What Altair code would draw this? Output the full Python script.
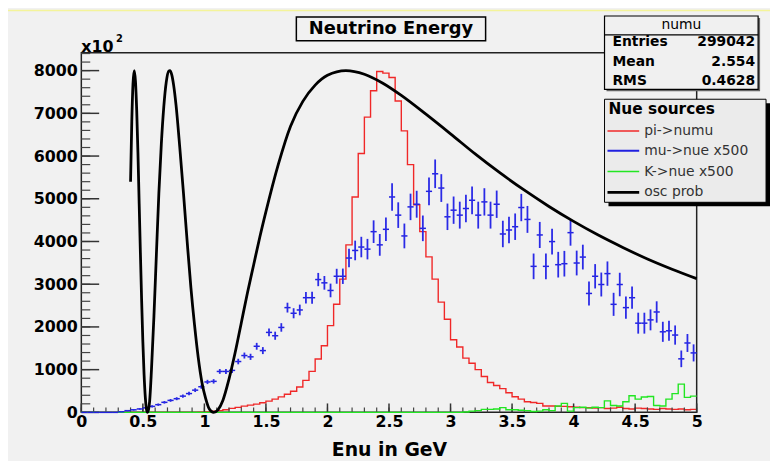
import altair as alt
import pandas as pd

FONT = "DejaVu Sans"

# ---------------- data ----------------
bin_low = [i / 20 for i in range(100)]          # 100 bins of 0.05 GeV
bin_edges = [i / 20 for i in range(101)]

pi_numu = [0] * 19 + [5, 10, 25, 40, 60, 93, 116, 147, 170, 193, 224, 263, 310, 363, 425,
                      495, 595, 750, 960, 1250, 1560, 2030, 2530, 3120, 3920, 5040, 6060, 6910, 7530,
                      7980, 7940, 7840, 7290, 6590, 5800, 4860, 4230, 3640, 3120, 2580, 2180,
                      1700, 1530, 1270, 1150, 1000, 840, 700, 630, 555, 460, 365, 310, 250, 230,
                      210, 150, 150, 140, 140, 130, 120, 110, 110, 100, 110, 90, 100, 120, 90, 80,
                      100, 90, 80, 70, 90, 80, 70, 80, 60, 70]

k_nue = [0] * 62 + [10, 30, 40, 70, 70, 80, 110, 60, 60, 50, 40, 20, 30, 60, 40, 150, 210, 30,
                    110, 120, 100, 120, 110, 270, 160, 150, 250, 390, 310, 360, 370, 160, 150,
                    310, 440, 660, 350, 380]

mu_nue = [0] * 6 + [15, 40, 60, 80, 105, 140, 180, 235, 280, 320, 380, 440, 520, 600,
                    712, 726, 958, 958, 982, 1190, 1330, 1300, 1547, 1446, 1872, 1794, 1988, 2452,
                    2320, 2397, 2684, 2684, 3109, 3032, 2854, 3186, 3186, 3613, 3790, 3870, 3821, 4230,
                    3921, 4285, 5042, 4617, 4130, 4810, 4872, 4308, 5174, 5585, 5251, 4578,
                    4733, 4617, 4772, 4965, 4617, 4927, 4617, 4872, 4176, 4269, 4346, 4795, 4517,
                    3418, 4153, 3418, 3998, 3457, 3480, 4207,
                    3496, 3635, 2784, 3186, 2993, 3248, 2529, 2993,
                    2452, 2684, 2088, 2088, 2165, 2350, 1886, 1910,
                    1810, 1253, 1624, 1392]

mu_err = [0] * 6 + [10, 15, 18, 20, 22, 25, 28, 30, 33, 35, 38, 40, 44, 47,
                    50, 52, 56, 58, 60, 65, 70, 72, 80, 82, 90, 95, 100, 115, 118, 125, 135, 140,
                    155, 160, 160, 175, 180, 215, 230, 240, 240, 265,
                    255, 275, 320, 300, 290, 310, 315, 300, 325, 335, 325, 310,
                    320, 315, 320, 325, 315, 320, 315, 320, 310, 310, 310, 320, 315,
                    300, 305, 300, 300, 300, 300, 305,
                    290, 290, 280, 285, 280, 285, 270, 275,
                    260, 260, 245, 245, 245, 250, 235, 235,
                    225, 195, 210, 200]

osc_E = [0.40, 0.41, 0.42, 0.43, 0.44, 0.45, 0.46, 0.47, 0.48, 0.49, 0.50, 0.51, 0.52, 0.53,
         0.5375, 0.545, 0.555, 0.57, 0.59, 0.61, 0.63, 0.65, 0.67, 0.69, 0.71, 0.72, 0.735,
         0.75, 0.77, 0.80, 0.83, 0.86, 0.89, 0.92, 0.95, 0.98, 1.01, 1.04, 1.075, 1.11, 1.15,
         1.20, 1.25, 1.30, 1.35, 1.40, 1.45, 1.50, 1.60, 1.70, 1.80, 1.90, 2.00, 2.15, 2.30,
         2.45, 2.60, 2.80, 3.00, 3.20, 3.40, 3.60, 3.80, 4.00, 4.20, 4.40, 4.60, 4.80, 5.00]
osc_P = [5400, 6800, 7700, 8000, 7750, 7070, 6080, 4890, 3730, 2620, 1650, 880, 350, 60,
         0, 50, 260, 1000, 2250, 3700, 5130, 6280, 7150, 7730, 7990, 8000, 7900,
         7660, 7180, 6200, 5130, 4000, 2930, 2040, 1280, 700, 330, 80, 0, 60, 280,
         780, 1400, 2100, 2800, 3450, 4100, 4700, 5800, 6700, 7280, 7660, 7890, 8000, 7915,
         7705, 7420, 6980, 6520, 6050, 5610, 5200, 4820, 4470, 4150, 3860, 3590, 3350, 3130]

x_major = [0, 0.5, 1, 1.5, 2, 2.5, 3, 3.5, 4, 4.5, 5]
x_minor = [i / 10 for i in range(51)]
y_major = [0, 1000, 2000, 3000, 4000, 5000, 6000, 7000, 8000]
y_minor = [i * 200 for i in range(43)]

# ---------------- tables ----------------
def step_df(vals):
    return pd.DataFrame({"E": bin_edges, "v": list(vals) + [vals[-1]]})

df_red = step_df(pi_numu)
df_green = step_df(k_nue)
df_blue = pd.DataFrame({
    "lo": bin_low,
    "hi": [b + 0.05 for b in bin_low],
    "c": [b + 0.025 for b in bin_low],
    "v": mu_nue,
    "vlo": [v - e for v, e in zip(mu_nue, mu_err)],
    "vhi": [v + e for v, e in zip(mu_nue, mu_err)],
})
df_osc = pd.DataFrame({"E": osc_E, "v": osc_P})

xs = alt.Scale(domain=[0, 5], nice=False, zero=False)
ys = alt.Scale(domain=[0, 8420], nice=False)

xaxis = alt.Axis(values=x_major, format="~g", ticks=False, domain=False, grid=False,
                 labelFont=FONT, labelFontWeight="bold", labelFontSize=16, labelColor="black",
                 labelPadding=1, labelFlush=False, labelOverlap=False,
                 title="Enu in GeV", titleFont=FONT, titleFontSize=19, titleFontWeight="bold",
                 titleColor="black", titleY=44, titleBaseline="alphabetic")
yaxis = alt.Axis(values=y_major, format="d", ticks=False, domain=False, grid=False,
                 labelFont=FONT, labelFontWeight="bold", labelFontSize=16, labelColor="black",
                 labelPadding=4, labelFlush=False, labelOverlap=False, title=None)

def X(field):
    return alt.X(field, scale=xs, axis=xaxis)

def Y(field):
    return alt.Y(field, scale=ys, axis=yaxis)

one = pd.DataFrame({"k": [0]})

# ---------------- ticks (inside the frame, ROOT style) ----------------
ytick_min = alt.Chart(pd.DataFrame({"y": y_minor})).mark_rule(color="#444", strokeWidth=1.2).encode(
    y=Y("y:Q"), x=alt.value(0), x2=alt.value(9))
ytick_maj = alt.Chart(pd.DataFrame({"y": y_major})).mark_rule(color="#333", strokeWidth=1.5).encode(
    y=Y("y:Q"), x=alt.value(0), x2=alt.value(18))
xtick_min = alt.Chart(pd.DataFrame({"x": x_minor})).mark_rule(color="#444", strokeWidth=1.2).encode(
    x=X("x:Q"), y=alt.value(363), y2=alt.value(358))
xtick_maj = alt.Chart(pd.DataFrame({"x": x_major})).mark_rule(color="#333", strokeWidth=1.5).encode(
    x=X("x:Q"), y=alt.value(363), y2=alt.value(354))

# ---------------- data layers ----------------
red = alt.Chart(df_red).mark_line(interpolate="step-after", color="#f02828", strokeWidth=1.4).encode(
    x=X("E:Q"), y=Y("v:Q"))
green = alt.Chart(df_green).mark_line(interpolate="step-after", color="#22e622", strokeWidth=1.4).encode(
    x=X("E:Q"), y=Y("v:Q"))
blue_h = alt.Chart(df_blue).mark_rule(color="#2020e0", strokeWidth=1.5).encode(
    x=X("lo:Q"), x2="hi:Q", y=Y("v:Q"))
blue_v = alt.Chart(df_blue).mark_rule(color="#2a2ae6", strokeWidth=1.8).encode(
    x=X("c:Q"), y=Y("vlo:Q"), y2="vhi:Q")
osc = alt.Chart(df_osc).mark_line(interpolate="monotone", color="black", strokeWidth=2.8).encode(
    x=X("E:Q"), y=Y("v:Q"))

# ---------------- decorations (pixel positions relative to plot area) ----------------
def box(x1, x2, y1, y2, fill, stroke=None, sw=1.0):
    kw = dict(fill=fill)
    if stroke:
        kw.update(stroke=stroke, strokeWidth=sw)
    return alt.Chart(one).mark_rect(**kw).encode(
        x=alt.value(x1), x2=alt.value(x2), y=alt.value(y1), y2=alt.value(y2))

def txt(s, x, y, size=14, weight="normal", align="left", color="black", baseline="middle"):
    return alt.Chart(one).mark_text(text=s, font=FONT, fontSize=size, fontWeight=weight,
                                    align=align, baseline=baseline, color=color).encode(
        x=alt.value(x), y=alt.value(y))

def hline(x1, x2, y, color, sw):
    return alt.Chart(one).mark_rule(color=color, strokeWidth=sw).encode(
        x=alt.value(x1), x2=alt.value(x2), y=alt.value(y))

deco = [
    hline(-74, 695, -42.5, "#f4f49a", 1.5),
    # title
    box(217, 408, -36, -12, "#f1f1f1", "black", 1.5),
    txt("Neutrino Energy", 312.5, -24, size=18, weight="bold", align="center"),
    # x10^2
    txt("x10", 0, -1, size=16, weight="bold", baseline="alphabetic"),
    txt("2", 35, -11, size=10, weight="bold", baseline="alphabetic"),
    # stats box
    box(530, 685, -35, 39, "#666"),
    box(528, 683, -37, 37, "#f0f0f0", "black", 1.2),
    hline(528, 683, -18, "black", 1.2),
    txt("numu", 605.5, -28, size=14, align="center"),
    txt("Entries", 536, -11, size=14, weight="bold"),
    txt("299042", 680, -11, size=14, weight="bold", align="right"),
    txt("Mean", 536, 9, size=14, weight="bold"),
    txt("2.554", 680, 9, size=14, weight="bold", align="right"),
    txt("RMS", 536, 29, size=14, weight="bold"),
    txt("0.4628", 680, 29, size=14, weight="bold", align="right"),
    # legend
    box(532, 695, 51, 155, "black"),
    box(528, 691, 47, 151, "#ebebeb", "black", 1.0),
    txt("Nue sources", 532, 57, size=15.5, weight="bold"),
    hline(531, 563, 79, "#f02828", 1.5),
    txt("pi->numu", 568, 79, size=14, color="#333"),
    hline(531, 563, 99, "#2020e0", 2),
    txt("mu->nue x500", 568, 99, size=14, color="#333"),
    hline(531, 563, 120, "#22e622", 1.5),
    txt("K->nue x500", 568, 120, size=14, color="#333"),
    hline(531, 563, 141, "black", 3),
    txt("osc prob", 568, 141, size=14, color="#333"),
]

chart = alt.layer(
    red, ytick_min, ytick_maj, xtick_min, xtick_maj, green, blue_h, blue_v, osc, *deco
).properties(
    width=621, height=363,
    padding={"left": 74, "top": 43, "right": 74, "bottom": 47},
    autosize=alt.AutoSizeParams(type="none"),
    background="#f1f1f1",
).configure_view(stroke="#222", strokeWidth=1.5)

chart.save("out.html", embed_options={"renderer": "svg", "actions": False})
